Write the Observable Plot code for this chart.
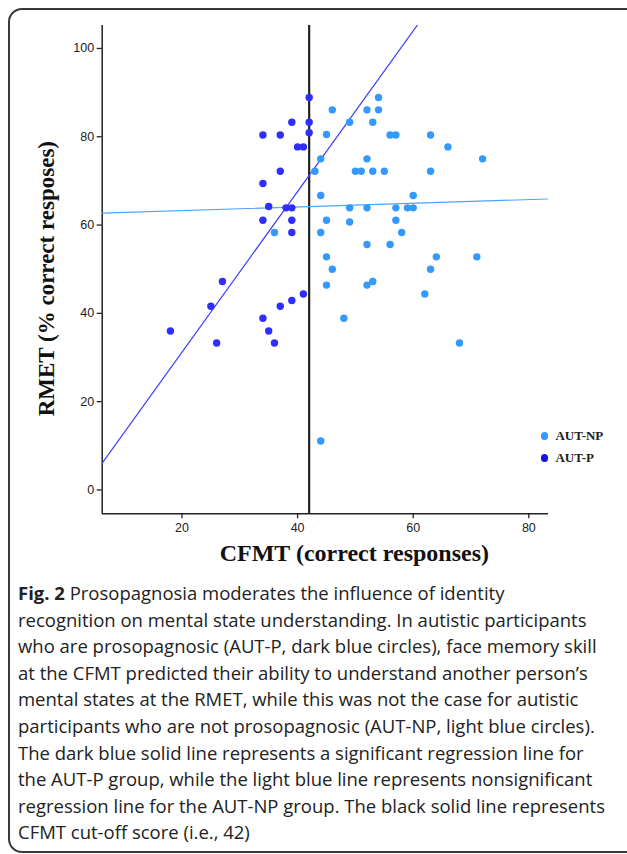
<!DOCTYPE html>
<html>
<head>
<meta charset="utf-8">
<script src="https://cdn.jsdelivr.net/npm/d3@7"></script>
<script src="https://cdn.jsdelivr.net/npm/@observablehq/plot@0.6"></script>
<style>
  html, body { margin: 0; padding: 0; background: #fff; }
  body { width: 627px; height: 854px; overflow: hidden; position: relative; }
  #frame { position: absolute; left: 8px; top: 8px; width: 720px; height: 845px;
           border: 2px solid #3a3a3a; border-radius: 14px; box-sizing: border-box; }
  #chart { position: absolute; left: 0; top: 0; }
  #legend { position: absolute; left: 541px; top: 425px; font-family: "Liberation Serif", "Times New Roman", serif;
            font-weight: bold; font-size: 13px; color: #222; }
  #legend .row { display: flex; align-items: center; height: 22px; }
  #legend .sw { width: 7.4px; height: 7.4px; border-radius: 50%; margin-right: 7px; }
  #caption { position: absolute; left: 18px; top: 580px; font-family: "Open Sans", sans-serif;
             font-size: 18.5px; line-height: 26.6px; color: #222; transform-origin: 0 0; white-space: nowrap; }
  #caption b { font-weight: 700; }
</style>
</head>
<body>
<div id="frame"></div>
<div id="chart"></div>
<div id="legend"></div>
<div id="caption"></div>
<script>
// ---- Data ----
const groups = ["AUT-NP", "AUT-P"];
const groupColors = ["#3399ff", "#2e2eff"];
const legendColors = ["#3399ff", "#1414e0"];

// AUT-NP (light blue)
const autNP_cfmt = [46, 45, 44, 43, 50, 51, 53, 55, 63, 52, 66, 56, 57, 63, 49, 53, 52, 54, 54, 72,
                    36, 44, 49, 52, 57, 59, 60, 60, 45, 49, 57, 44, 58, 52, 56, 45, 46, 45, 52, 53,
                    64, 63, 62, 71, 48, 68, 44];
const autNP_rmet = [86.1, 80.5, 75.0, 72.2, 72.2, 72.2, 72.2, 72.2, 72.2, 75.0, 77.7, 80.4, 80.4, 80.4, 83.3, 83.3, 86.1, 86.1, 88.9, 75.0,
                    58.3, 66.7, 63.9, 63.9, 63.9, 63.9, 63.9, 66.7, 61.1, 60.7, 61.1, 58.3, 58.3, 55.6, 55.6, 52.8, 50.0, 46.4, 46.4, 47.2,
                    52.8, 50.0, 44.4, 52.8, 38.9, 33.3, 11.1];

// AUT-P (dark blue)
const autP_cfmt = [34, 37, 39, 42, 42, 42, 40, 41, 37, 34, 35, 38, 39, 34, 39, 39, 27, 25, 18, 26,
                   34, 35, 36, 37, 39, 41];
const autP_rmet = [80.4, 80.4, 83.3, 88.9, 83.3, 80.9, 77.7, 77.7, 72.2, 69.4, 64.2, 63.9, 63.9, 61.1, 61.1, 58.3, 47.2, 41.6, 36.0, 33.3,
                   38.9, 36.0, 33.3, 41.6, 42.9, 44.4];

// Regression lines (as drawn) and cut-off
const regIntercepts = [62.44, -5.2];   // AUT-NP, AUT-P
const regSlopes = [0.0416, 1.82];
const cfmtCutoff = 42;

const xTicks = [20, 40, 60, 80];
const yTicks = [0, 20, 40, 60, 80, 100];
const xTitle = "CFMT (correct responses)";
const yTitle = "RMET (% correct resposes)";

const captionLines = [
  "<b>Fig. 2</b> Prosopagnosia moderates the influence of identity",
  "recognition on mental state understanding. In autistic participants",
  "who are prosopagnosic (AUT-P, dark blue circles), face memory skill",
  "at the CFMT predicted their ability to understand another person’s",
  "mental states at the RMET, while this was not the case for autistic",
  "participants who are not prosopagnosic (AUT-NP, light blue circles).",
  "The dark blue solid line represents a significant regression line for",
  "the AUT-P group, while the light blue line represents nonsignificant",
  "regression line for the AUT-NP group. The black solid line represents",
  "CFMT cut-off score (i.e., 42)"
];

// ---- Build tables ----
const xDomain = [6.2, 83.4];
const yDomain = [-5.4, 105.2];
const npPts = autNP_cfmt.map((x, i) => ({x, y: autNP_rmet[i]}));
const pPts = autP_cfmt.map((x, i) => ({x, y: autP_rmet[i]}));
const regLines = groups.flatMap((g, k) => xDomain.map(x => ({group: g, x, y: regIntercepts[k] + regSlopes[k] * x})));

const serif = "'Liberation Serif', 'Times New Roman', serif";

const chart = Plot.plot({
  width: 627,
  height: 570,
  marginLeft: 101.7,
  marginRight: 79,
  marginTop: 25,
  marginBottom: 56.7,
  style: {fontFamily: "'Liberation Sans', Arial, sans-serif", fontSize: "12.5px", color: "#222", background: "transparent"},
  x: {domain: xDomain},
  y: {domain: yDomain},
  marks: [
    Plot.axisX({ticks: xTicks, tickSize: 5, tickPadding: 4, label: null, stroke: "#222", strokeWidth: 1.3, fill: "#222"}),
    Plot.axisY({ticks: yTicks, tickSize: 5, tickPadding: 3, label: null, stroke: "#222", strokeWidth: 1.3, fill: "#222"}),
    Plot.ruleX([xDomain[0]], {stroke: "#222", strokeWidth: 1.5}),
    Plot.ruleY([yDomain[0]], {stroke: "#222", strokeWidth: 1.5}),
    Plot.ruleX([cfmtCutoff], {stroke: "#222", strokeWidth: 2.2}),
    Plot.line(regLines.filter(d => d.group === "AUT-NP"), {x: "x", y: "y", stroke: "#4da3ff", strokeWidth: 1.2, clip: true}),
    Plot.line(regLines.filter(d => d.group === "AUT-P"), {x: "x", y: "y", stroke: "#4040ff", strokeWidth: 1.2, clip: true}),
    Plot.dot(npPts, {x: "x", y: "y", r: 3.7, fill: groupColors[0]}),
    Plot.dot(pPts, {x: "x", y: "y", r: 3.7, fill: groupColors[1]}),
    Plot.text([xTitle], {frameAnchor: "bottom", dx: 29, dy: 47, fontSize: 24, fontWeight: "bold", fontFamily: serif, fill: "#111"}),
    Plot.text([yTitle], {frameAnchor: "left", textAnchor: "middle", lineAnchor: "middle", dx: -56, dy: 9, rotate: -90, fontSize: 23, fontWeight: "bold", fontFamily: serif, fill: "#111"})
  ]
});
document.getElementById("chart").appendChild(chart);

// Legend
const legend = document.getElementById("legend");
groups.forEach((g, i) => {
  const row = document.createElement("div");
  row.className = "row";
  row.innerHTML = `<span class="sw" style="background:${legendColors[i]}"></span><span>${g}</span>`;
  legend.appendChild(row);
});

// Caption
const cap = document.getElementById("caption");
cap.innerHTML = captionLines.map(l => `<div>${l}</div>`).join("");
const refLine = cap.children[1];
const w = refLine.getBoundingClientRect().width;
const target = 587;
cap.style.transform = `scaleX(${target / w})`;
</script>
</body>
</html>
